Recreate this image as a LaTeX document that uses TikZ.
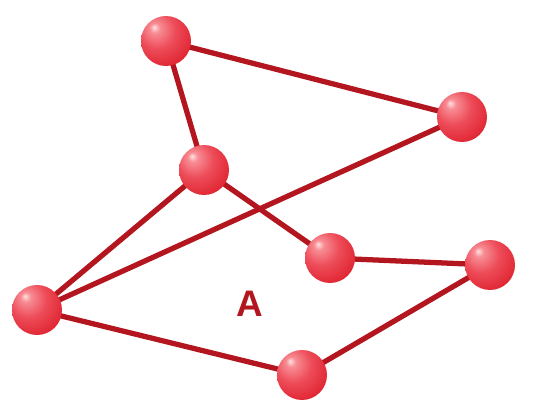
\documentclass[tikz,border=0pt]{standalone}
\usepackage{fontspec}
\setmainfont{Liberation Sans}
\usetikzlibrary{backgrounds}
\definecolor{lred}  {RGB}{180, 22, 32}
\pgfdeclareradialshading{redball}{\pgfpoint{-12bp}{14bp}}{%
  rgb(0bp)=(1,0.88,0.88);
  rgb(5bp)=(0.97,0.55,0.58);
  rgb(18bp)=(0.93,0.3,0.35);
  rgb(34bp)=(0.88,0.15,0.2);
  rgb(48bp)=(0.78,0.07,0.12);
  rgb(72bp)=(0.68,0.04,0.08)}
\tikzset{
  % Shiny red vertex
  VB/.style={circle,minimum size=1.0cm,inner sep=0pt,
             shading=redball,draw=none},
  % Dark red edge
  Edge/.style={line width=3pt,color=lred},
}

\begin{document}
\begin{tikzpicture}[x=0.02cm,y=-0.02cm]
        \useasboundingbox (0,0) rectangle (535,405);
        % Vertices
        \node[VB] at (166, 41)  (v1) {};
        \node[VB] at (462,117)  (v2) {};
        \node[VB] at (204,170)  (v3) {};
        \node[VB] at (330,258)  (v4) {};
        \node[VB] at (490,265)  (v5) {};
        \node[VB] at ( 37,310)  (v6) {};
        \node[VB] at (302,375)  (v7) {};
        % Label
        \node[font=\bfseries\fontsize{21}{24}\selectfont,text=lred]
              at (250,304) (lab) {A};
        % Edges, behind the balls
        \begin{scope}[on background layer]
        \foreach \a/\b in {v1/v2,v1/v3,v3/v6,v6/v2,v3/v4,v4/v5,v6/v7,v7/v5}
          \draw[Edge] (\a.center) -- (\b.center);
        \end{scope}
\end{tikzpicture}
\end{document}
